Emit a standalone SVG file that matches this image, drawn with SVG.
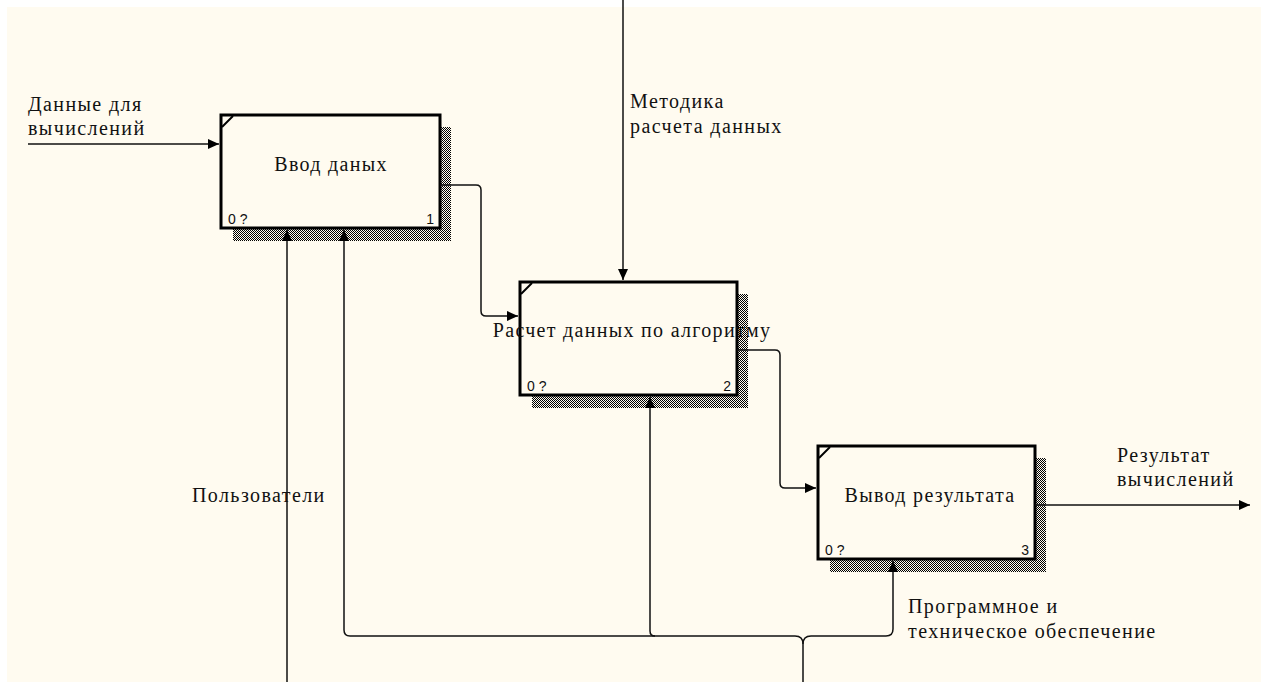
<svg xmlns="http://www.w3.org/2000/svg" width="1261" height="682" viewBox="0 0 1261 682">
<style>
.lbl{font-family:"Liberation Serif","Times New Roman",serif;font-size:20px;letter-spacing:1.4px;fill:#111;}
.btxt{font-family:"Liberation Serif","Times New Roman",serif;font-size:20px;letter-spacing:1.3px;fill:#111;text-anchor:middle;}
.num{font-family:"Liberation Sans",Arial,sans-serif;font-size:14px;fill:#111;}
.box{fill:#FFFBF0;stroke:#000;stroke-width:3;}
.shadow{fill:url(#hatch);}
.conn{fill:none;stroke:#111;stroke-width:1.5;}
.corner{fill:none;stroke:#000;stroke-width:2;}
</style>
<defs>
<pattern id="hatch" width="2" height="2" patternUnits="userSpaceOnUse">
<rect x="0" y="0" width="1" height="1" fill="#000"/>
<rect x="1" y="1" width="1" height="1" fill="#000"/>
</pattern>
<marker id="arr" markerWidth="12" markerHeight="10" refX="11" refY="5" orient="auto" markerUnits="userSpaceOnUse">
<path d="M0,0 L11,5 L0,10 Z" fill="#000"/>
</marker>
</defs>
<rect x="0" y="0" width="1261" height="682" fill="#FFFFFF"/>
<rect x="7" y="7" width="1254" height="675" fill="#FFFBF0"/>

<g id="node1">
<rect class="shadow" x="440" y="127" width="11" height="114"/>
<rect class="shadow" x="233" y="229" width="218" height="12"/>
<rect class="box" x="221" y="115" width="219" height="113"/>
<path class="corner" d="M222,127 L233,116"/>
<text class="btxt" x="331" y="171">Ввод даных</text>
<text class="num" x="228" y="224">0 ?</text>
<text class="num" x="434" y="224" text-anchor="end">1</text>
</g>

<g id="node2">
<rect class="shadow" x="737" y="294" width="11" height="114"/>
<rect class="shadow" x="532" y="396" width="216" height="12"/>
<rect class="box" x="520" y="282" width="217" height="113"/>
<path class="corner" d="M521,294 L532,283"/>
<text class="btxt" x="632" y="337">Расчет данных по алгоритму</text>
<text class="num" x="527" y="391">0 ?</text>
<text class="num" x="731" y="391" text-anchor="end">2</text>
</g>

<g id="node3">
<rect class="shadow" x="1035" y="458" width="11" height="114"/>
<rect class="shadow" x="830" y="560" width="216" height="12"/>
<rect class="box" x="818" y="446" width="217" height="113"/>
<path class="corner" d="M819,458 L830,447"/>
<text class="btxt" x="930" y="502">Вывод результата</text>
<text class="num" x="825" y="555">0 ?</text>
<text class="num" x="1029" y="555" text-anchor="end">3</text>
</g>

<g id="connectors">
<path class="conn" d="M28,144 H219" marker-end="url(#arr)"/>
<path class="conn" d="M440,185 H476 Q481,185 481,190 V311 Q481,316 486,316 H518" marker-end="url(#arr)"/>
<path class="conn" d="M623,0 V280" marker-end="url(#arr)"/>
<path class="conn" d="M737,350 H775 Q780,350 780,355 V483 Q780,488 785,488 H816" marker-end="url(#arr)"/>
<path class="conn" d="M1035,505 H1250" marker-end="url(#arr)"/>
<path class="conn" d="M287,682 V230" marker-end="url(#arr)"/>
<path class="conn" d="M803,682 V644 Q803,636 795,636 H350 Q344,636 344,630 V230" marker-end="url(#arr)"/>
<path class="conn" d="M655,636 Q650,636 650,631 V397" marker-end="url(#arr)"/>
<path class="conn" d="M803,644 Q803,636 811,636 H886 Q893,636 893,629 V561" marker-end="url(#arr)"/>
</g>

<g id="labels">
<text class="lbl" x="28" y="111">Данные для</text>
<text class="lbl" x="28" y="135">вычислений</text>
<text class="lbl" x="630" y="108">Методика</text>
<text class="lbl" x="630" y="133">расчета данных</text>
<text class="lbl" x="192" y="502">Пользователи</text>
<text class="lbl" x="1117" y="462">Результат</text>
<text class="lbl" x="1117" y="486">вычислений</text>
<text class="lbl" x="908" y="613">Программное и</text>
<text class="lbl" x="908" y="638">техническое обеспечение</text>
</g>
</svg>
